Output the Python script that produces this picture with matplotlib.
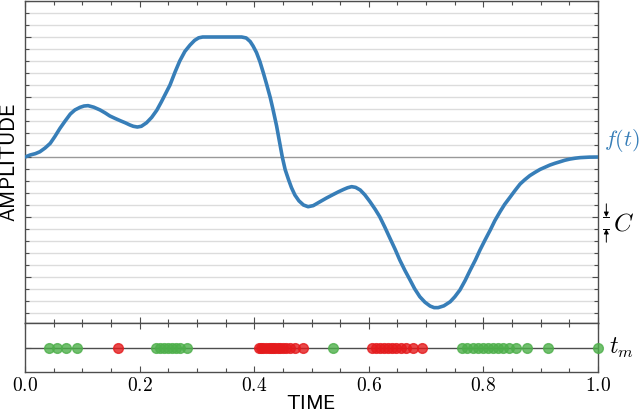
import matplotlib
matplotlib.use('Agg')
import matplotlib.pyplot as plt
import matplotlib.ticker as mticker
import numpy as np

plt.rcParams['mathtext.fontset'] = 'cm'

# signal f(t), amplitude in units of the level spacing C
t_curve = [0.000, 0.009, 0.018, 0.026, 0.035, 0.044, 0.052, 0.061, 0.070, 0.079,
           0.087, 0.096, 0.103, 0.110, 0.120, 0.131, 0.140, 0.148, 0.157, 0.166,
           0.175, 0.183, 0.189, 0.196, 0.203, 0.212, 0.221, 0.230, 0.238, 0.247,
           0.253, 0.262, 0.270, 0.279, 0.288, 0.296, 0.303, 0.310, 0.378, 0.386,
           0.393, 0.398, 0.404, 0.410, 0.416, 0.422, 0.428, 0.433, 0.439, 0.444,
           0.449, 0.454, 0.460, 0.465, 0.471, 0.478, 0.486, 0.494, 0.503, 0.515,
           0.526, 0.538, 0.547, 0.556, 0.563, 0.570, 0.577, 0.585, 0.593, 0.602,
           0.611, 0.619, 0.628, 0.637, 0.646, 0.654, 0.663, 0.672, 0.680, 0.689,
           0.698, 0.707, 0.714, 0.721, 0.731, 0.742, 0.750, 0.759, 0.768, 0.777,
           0.786, 0.794, 0.803, 0.812, 0.820, 0.829, 0.837, 0.846, 0.855, 0.864,
           0.872, 0.881, 0.890, 0.899, 0.908, 0.916, 0.925, 0.934, 0.942, 0.951,
           0.960, 0.969, 0.985, 1.000]
f_curve = [0.00, 0.17, 0.28, 0.44, 0.75, 1.14, 1.70, 2.39, 3.00, 3.58,
           3.92, 4.14, 4.25, 4.28, 4.15, 3.92, 3.67, 3.42, 3.22, 3.03,
           2.85, 2.67, 2.56, 2.50, 2.56, 2.85, 3.30, 3.90, 4.60, 5.44,
           6.00, 7.10, 8.00, 8.80, 9.33, 9.72, 9.93, 10.0, 10.0, 9.92,
           9.62, 9.25, 8.70, 7.94, 7.00, 6.00, 4.95, 3.92, 2.60, 1.30,
           0.00, -1.05, -1.90, -2.55, -3.17, -3.65, -4.00, -4.14, -4.05, -3.72,
           -3.42, -3.12, -2.90, -2.70, -2.56, -2.47, -2.53, -2.75, -3.15, -3.72,
           -4.35, -4.97, -5.85, -6.78, -7.70, -8.58, -9.45, -10.25, -10.98, -11.64,
           -12.10, -12.42, -12.55, -12.55, -12.40, -12.06, -11.65, -11.08, -10.30, -9.42,
           -8.58, -7.75, -6.90, -6.08, -5.30, -4.56, -3.95, -3.38, -2.80, -2.25,
           -1.90, -1.55, -1.28, -1.03, -0.84, -0.67, -0.52, -0.39, -0.27, -0.17,
           -0.10, -0.05, -0.01, 0.00]

# sample times t_m
t_up = [0.041, 0.056, 0.071, 0.091,
        0.229, 0.236, 0.243, 0.250, 0.257, 0.263, 0.270, 0.283,
        0.537,
        0.762, 0.772, 0.781, 0.790, 0.799, 0.808, 0.817, 0.826, 0.835, 0.845,
        0.857, 0.876, 0.912, 1.000]
t_down = [0.163,
          0.408, 0.412, 0.416, 0.421, 0.425, 0.429, 0.433, 0.437, 0.441, 0.445,
          0.450, 0.456, 0.463, 0.471, 0.486,
          0.605, 0.613, 0.620, 0.627, 0.634, 0.641, 0.648, 0.656, 0.665, 0.677,
          0.693]

blue = '#377eb8'
red = '#e41a1c'
green = '#4daf4a'
spine_c = '0.3'

fig = plt.figure(figsize=(6.4, 4.15), dpi=100)
ax = fig.add_axes([0.0391, 0.2217, 0.8953, 0.7759])
ax2 = fig.add_axes([0.0391, 0.1036, 0.8953, 0.1181], sharex=ax)

# main panel
levels = np.arange(-13, 14)
for lv in levels:
    if lv == 0:
        ax.axhline(lv, color='0.6', lw=1.0, zorder=1)
    else:
        ax.axhline(lv, color='#dcdcdc', lw=1.0, zorder=1)
ax.plot(t_curve, f_curve, color=blue, lw=2.6, solid_capstyle='round',
        solid_joinstyle='round', zorder=3)
ax.set_xlim(0, 1)
ax.set_ylim(-13.83, 13.0)
ax.yaxis.set_major_locator(mticker.MultipleLocator(5))
ax.yaxis.set_minor_locator(mticker.MultipleLocator(1))
ax.xaxis.set_major_locator(mticker.MultipleLocator(0.2))
ax.xaxis.set_minor_locator(mticker.MultipleLocator(0.05))
ax.tick_params(which='both', direction='in', top=True, right=True,
               labelleft=False, labelbottom=False, color=spine_c)
ax.tick_params(which='major', length=4, width=0.8)
ax.tick_params(which='minor', length=3, width=0.8)
ax.set_ylabel(r'$\mathsf{AMPLITUDE}$', fontsize=15, labelpad=4)

ax.text(1.01, 1.4, r'$f(t)$', color=blue, fontsize=16, va='center', ha='left',
        clip_on=False)
ax.text(1.026, -5.55, r'$C$', fontsize=18, va='center', ha='left', clip_on=False)
xa = 1.0145
ax.annotate('', xy=(xa, -5.0), xytext=(xa, -3.9), annotation_clip=False,
            arrowprops=dict(arrowstyle='-|>', lw=0.7, color='k', mutation_scale=7,
                            shrinkA=0, shrinkB=0))
ax.annotate('', xy=(xa, -6.0), xytext=(xa, -7.1), annotation_clip=False,
            arrowprops=dict(arrowstyle='-|>', lw=0.7, color='k', mutation_scale=7,
                            shrinkA=0, shrinkB=0))
ax.plot([xa - 0.005, xa + 0.005], [-5.0, -5.0], color='k', lw=0.7, clip_on=False)
ax.plot([xa - 0.005, xa + 0.005], [-6.0, -6.0], color='k', lw=0.7, clip_on=False)

# sample strip
ax2.axhline(0, color=spine_c, lw=1.0, zorder=1)
ax2.plot(t_up, np.zeros(len(t_up)), 'o', ms=7, mfc=green, mec=green, alpha=0.8,
         clip_on=False, zorder=3)
ax2.plot(t_down, np.zeros(len(t_down)), 'o', ms=7, mfc=red, mec=red, alpha=0.8,
         clip_on=False, zorder=3)
ax2.set_ylim(-1, 1)
ax2.set_yticks([0])
ax2.set_yticklabels([])
ax2.tick_params(which='both', direction='in', top=True, right=True, color=spine_c)
ax2.tick_params(which='major', length=4, width=0.8)
ax2.tick_params(which='minor', length=3, width=0.8)
ax2.xaxis.set_major_formatter(mticker.FuncFormatter(lambda v, p: r'$%.1f$' % v))
ax2.tick_params(axis='x', labelsize=14, pad=3)
ax2.set_xlabel(r'$\mathsf{TIME}$', fontsize=14.5, labelpad=-1)
ax2.text(1.02, 0, r'$t_m$', fontsize=17, va='center', ha='left', clip_on=False)

for a in (ax, ax2):
    for s in a.spines.values():
        s.set_color(spine_c)
        s.set_linewidth(1.0)

fig.savefig('out.png', dpi=100)
